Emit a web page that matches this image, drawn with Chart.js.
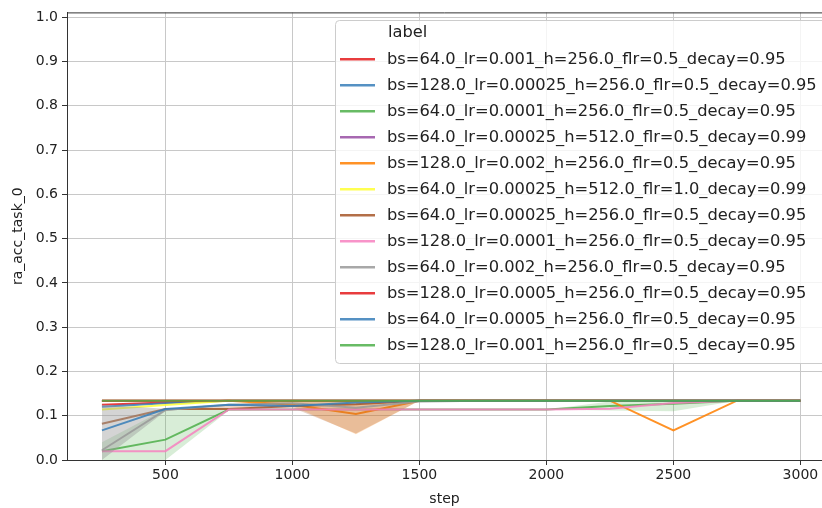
<!DOCTYPE html>
<html><head><meta charset="utf-8">
<script src="https://cdn.jsdelivr.net/npm/chart.js@4/dist/chart.umd.min.js"></script>
<style>html,body{margin:0;padding:0;background:#fff}#wrap{width:822px;height:508px}</style>
</head><body><div id="wrap"><canvas id="c" width="822" height="508"></canvas></div>
<script>
// ---- data ----
const steps = [250,500,750,1000,1250,1500,1750,2000,2250,2500,2750,3000];
const xTicks = [500,1000,1500,2000,2500,3000];
const yTicks = [0,0.1,0.2,0.3,0.4,0.5,0.6,0.7,0.8,0.9,1.0];
const labels = [
  "bs=64.0_lr=0.001_h=256.0_flr=0.5_decay=0.95",
  "bs=128.0_lr=0.00025_h=256.0_flr=0.5_decay=0.95",
  "bs=64.0_lr=0.0001_h=256.0_flr=0.5_decay=0.95",
  "bs=64.0_lr=0.00025_h=512.0_flr=0.5_decay=0.99",
  "bs=128.0_lr=0.002_h=256.0_flr=0.5_decay=0.95",
  "bs=64.0_lr=0.00025_h=512.0_flr=1.0_decay=0.99",
  "bs=64.0_lr=0.00025_h=256.0_flr=0.5_decay=0.95",
  "bs=128.0_lr=0.0001_h=256.0_flr=0.5_decay=0.95",
  "bs=64.0_lr=0.002_h=256.0_flr=0.5_decay=0.95",
  "bs=128.0_lr=0.0005_h=256.0_flr=0.5_decay=0.95",
  "bs=64.0_lr=0.0005_h=256.0_flr=0.5_decay=0.95",
  "bs=128.0_lr=0.001_h=256.0_flr=0.5_decay=0.95"
];
const red1   = [0.125,0.130,0.134,0.134,0.134,0.134,0.134,0.134,0.134,0.134,0.134,0.134];
const blue1  = [0.120,0.128,0.134,0.134,0.134,0.134,0.134,0.134,0.134,0.134,0.134,0.134];
const green1 = [0.020,0.046,0.114,0.114,0.114,0.114,0.114,0.114,0.122,0.127,0.134,0.134];
const purple = [0.134,0.134,0.134,0.134,0.134,0.134,0.134,0.134,0.134,0.134,0.134,0.134];
const orange = [0.134,0.134,0.134,0.125,0.104,0.134,0.134,0.134,0.134,0.067,0.134,0.134];
const yellow = [0.114,0.124,0.134,0.134,0.134,0.134,0.134,0.134,0.134,0.134,0.134,0.134];
const brown  = [0.082,0.115,0.115,0.122,0.126,0.134,0.134,0.134,0.134,0.134,0.134,0.134];
const pink   = [0.020,0.020,0.114,0.114,0.114,0.114,0.114,0.114,0.116,0.129,0.134,0.134];
const grey   = [0.022,0.113,0.125,0.128,0.118,0.132,0.134,0.134,0.134,0.134,0.134,0.134];
const red2   = [0.134,0.134,0.134,0.134,0.134,0.134,0.134,0.134,0.134,0.134,0.134,0.134];
const blue2  = [0.067,0.115,0.125,0.122,0.130,0.134,0.134,0.134,0.134,0.134,0.134,0.134];
const green2 = [0.134,0.134,0.134,0.134,0.134,0.134,0.134,0.134,0.134,0.134,0.134,0.134];
// confidence bands (lower / upper)
const greyLo   = [0.000,0.110,0.125,0.128,0.118,0.132,0.134,0.134,0.134,0.134,0.134,0.134];
const greyHi   = [0.125,0.116,0.125,0.128,0.118,0.132,0.134,0.134,0.134,0.134,0.134,0.134];
const green1Lo = [0.000,0.000,0.112,0.114,0.114,0.114,0.114,0.114,0.112,0.110,0.134,0.134];
const green1Hi = [0.040,0.115,0.116,0.114,0.114,0.114,0.114,0.114,0.132,0.134,0.134,0.134];
const orangeLo = [0.134,0.134,0.134,0.122,0.058,0.134,0.134,0.134,0.134,0.067,0.134,0.134];
const orangeHi = [0.134,0.134,0.134,0.134,0.134,0.134,0.134,0.134,0.134,0.067,0.134,0.134];
const brownLo  = [0.082,0.115,0.115,0.118,0.060,0.134,0.134,0.134,0.134,0.134,0.134,0.134];
const brownHi  = [0.082,0.115,0.125,0.134,0.134,0.134,0.134,0.134,0.134,0.134,0.134,0.134];

const series = [red1,blue1,green1,purple,orange,yellow,brown,pink,grey,red2,blue2,green2];
const rgb = [[228,26,28],[55,126,184],[77,175,74],[152,78,163],[255,127,0],[255,255,51],[166,86,40],[247,129,191],[153,153,153],[228,26,28],[55,126,184],[77,175,74]];
const bands = [[8,greyLo,greyHi,0.42],[2,green1Lo,green1Hi,0.22],[4,orangeLo,orangeHi,0.25],[6,brownLo,brownHi,0.25]];

const col = (i,a)=>`rgba(${rgb[i][0]},${rgb[i][1]},${rgb[i][2]},${a})`;
const pts = arr => steps.map((s,j)=>({x:s,y:arr[j]}));

const datasets = [];
series.forEach((arr,i)=>{
  datasets.push({label:labels[i],data:pts(arr),borderColor:col(i,0.85),borderWidth:2,pointRadius:0,fill:false,order:-3*i,tension:0});
  bands.filter(b=>b[0]===i).forEach(b=>{
    datasets.push({label:'_band',data:pts(b[1]),borderWidth:0,borderColor:'rgba(0,0,0,0)',pointRadius:0,fill:false,order:-3*i-1});
    datasets.push({label:'_band',data:pts(b[2]),borderWidth:0,borderColor:'rgba(0,0,0,0)',backgroundColor:col(i,b[3]),pointRadius:0,fill:'-1',order:-3*i-1});
  });
});

const FONT = "'DejaVu Sans', sans-serif";
const legendPlugin = {
  id:'mplLegend',
  afterDraw(chart){
    const ctx = chart.ctx;
    ctx.save();
    const ca = chart.chartArea;
    ctx.strokeStyle = '#333'; ctx.lineWidth = 1;
    ctx.beginPath(); ctx.moveTo(ca.left, ca.top+0.5); ctx.lineTo(ca.right, ca.top+0.5); ctx.stroke();
    const bx=335.5, by=20.5, bw=600, bh=343, r=4;
    ctx.beginPath();
    ctx.moveTo(bx+r,by); ctx.lineTo(bx+bw-r,by); ctx.arcTo(bx+bw,by,bx+bw,by+r,r);
    ctx.lineTo(bx+bw,by+bh-r); ctx.arcTo(bx+bw,by+bh,bx+bw-r,by+bh,r);
    ctx.lineTo(bx+r,by+bh); ctx.arcTo(bx,by+bh,bx,by+bh-r,r);
    ctx.lineTo(bx,by+r); ctx.arcTo(bx,by,bx+r,by,r); ctx.closePath();
    ctx.fillStyle='rgba(255,255,255,0.8)'; ctx.fill();
    ctx.strokeStyle='#cccccc'; ctx.lineWidth=1; ctx.stroke();
    ctx.font = "16.3px "+FONT; ctx.textBaseline='middle'; ctx.textAlign='left';
    ctx.fillStyle='#222';
    ctx.fillText('label', 388, 33);
    labels.forEach((lab,i)=>{
      const y = 59.3 + 26.0*i;
      ctx.strokeStyle = col(i,0.85); ctx.lineWidth=2.5;
      ctx.beginPath(); ctx.moveTo(340,y); ctx.lineTo(375,y); ctx.stroke();
      ctx.fillStyle='#222';
      ctx.fillText(lab, 387, y);
    });
    ctx.restore();
  }
};

new Chart(document.getElementById('c'),{
  type:'line',
  data:{datasets},
  plugins:[legendPlugin],
  options:{
    responsive:false, animation:false, devicePixelRatio:1,
    layout:{padding:{top:12,right:0,left:0,bottom:0}},
    plugins:{legend:{display:false},tooltip:{enabled:false}},
    scales:{
      x:{type:'linear',min:112.5,max:3085,
        afterBuildTicks:s=>{s.ticks=xTicks.map(v=>({value:v}));},
        afterFit:s=>{s.height=48;},
        grid:{color:'#c8c8c8',lineWidth:1,tickLength:5,tickColor:'#333'},
        border:{color:'#333',width:1},
        ticks:{padding:2,color:'#222',font:{family:FONT,size:14},maxRotation:0,callback:v=>String(v)},
        title:{display:true,text:'step',color:'#222',font:{family:FONT,size:14},padding:{top:0,bottom:0}}
      },
      y:{type:'linear',min:0,max:1.011,
        afterBuildTicks:s=>{s.ticks=yTicks.map(v=>({value:v}));},
        afterFit:s=>{s.width=67;},
        grid:{color:'#c8c8c8',lineWidth:1,tickLength:5,tickColor:'#333'},
        border:{color:'#333',width:1},
        ticks:{padding:4,color:'#222',font:{family:FONT,size:14},callback:v=>v.toFixed(1)},
        title:{display:true,text:'ra_acc_task_0',color:'#222',font:{family:FONT,size:14},padding:{top:10,bottom:0}}
      }
    }
  }
});
</script></body></html>
